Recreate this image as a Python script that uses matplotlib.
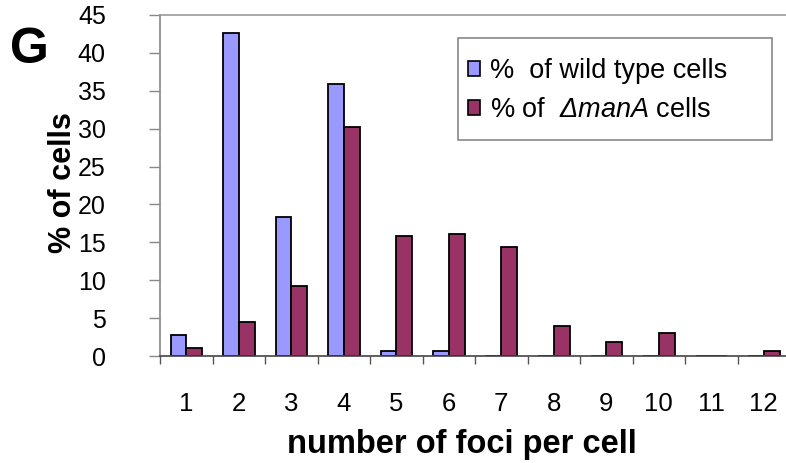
import matplotlib
matplotlib.use('Agg')
import matplotlib.pyplot as plt
import numpy as np
from matplotlib.patches import Patch, Rectangle

plt.rcParams['font.family'] = ['Liberation Sans', 'DejaVu Sans']
plt.rcParams['mathtext.fontset'] = 'custom'
plt.rcParams['mathtext.it'] = 'Liberation Sans:italic'
# only mathtext in the figure is the italic gene name, so roman can be italic too
plt.rcParams['mathtext.rm'] = 'Liberation Sans:italic'

# number of foci per cell
foci = [1, 2, 3, 4, 5, 6, 7, 8, 9, 10, 11, 12]
# % of wild type cells
wild_type = [2.8, 42.6, 18.3, 35.9, 0.6, 0.6, 0, 0, 0, 0, 0, 0]
# % of manA deletion cells
man_a = [1.1, 4.5, 9.2, 30.2, 15.9, 16.1, 14.4, 4.0, 1.85, 3.1, 0, 0.6]
y_ticks = [0, 5, 10, 15, 20, 25, 30, 35, 40, 45]

W, H = 786, 463
fig = plt.figure(figsize=(W / 100, H / 100), dpi=100)
ax = fig.add_axes([160 / W, 1 - 356 / H, 630 / W, 341 / H])

x = np.arange(len(foci)) + 1
bw = 0.3
ax.bar(x - bw / 2, wild_type, bw, color='#9999ff', edgecolor='black', linewidth=1.3, zorder=2)
ax.bar(x + bw / 2, man_a, bw, color='#993366', edgecolor='black', linewidth=1.3, zorder=2)

ax.set_xlim(0.5, 12.5)
ax.set_ylim(0, 45)
ax.set_yticks(y_ticks)
ax.set_xticks(x)
ax.set_xticklabels([str(f) for f in foci])
ax.set_xticks(np.arange(0.5, 13, 1), minor=True)
ax.tick_params(axis='x', which='major', length=0, pad=26, labelsize=18.5)
ax.tick_params(axis='x', which='minor', length=6, width=1, color='#555555')
ax.tick_params(axis='y', length=8, width=1, color='#888888', pad=31, labelsize=18)

ax.spines['right'].set_visible(False)
ax.spines['top'].set_color('#999999')
ax.spines['left'].set_color('#888888')
ax.spines['bottom'].set_color('#444444')
for s in ax.spines.values():
    s.set_linewidth(1.2)
    s.set_zorder(3)

# legend box drawn separately so padding matches
fig.patches.append(Rectangle((458 / W, 1 - 140 / H), 314 / W, 102 / H,
                             transform=fig.transFigure, fill=True, facecolor='white',
                             edgecolor='#888888', linewidth=1.2, zorder=5))
handles = [Patch(facecolor='#9999ff', edgecolor='black', linewidth=1.2),
           Patch(facecolor='#993366', edgecolor='black', linewidth=1.2)]
labels = ['%  of wild type cells', r'% of  $\Delta manA$ cells']
leg = fig.legend(handles, labels, loc='upper left', bbox_to_anchor=(468 / W, 1 - 58 / H),
                 frameon=False, fontsize=19.5, handlelength=0.45, handleheight=0.45,
                 handletextpad=0.35, labelspacing=0.48, borderpad=0, borderaxespad=0)
leg.set_zorder(6)

fig.text(10 / W, 1 - 63 / H, 'G', fontsize=36, fontweight='bold', va='baseline', ha='left')
fig.text(63 / W, 1 - 183 / H, '% of cells', fontsize=22, fontweight='bold',
         rotation=90, ha='center', va='center')
fig.text(462 / W, 1 - 453 / H, 'number of foci per cell', fontsize=23.5,
         fontweight='bold', ha='center', va='baseline')

fig.savefig('out.png', dpi=100)
